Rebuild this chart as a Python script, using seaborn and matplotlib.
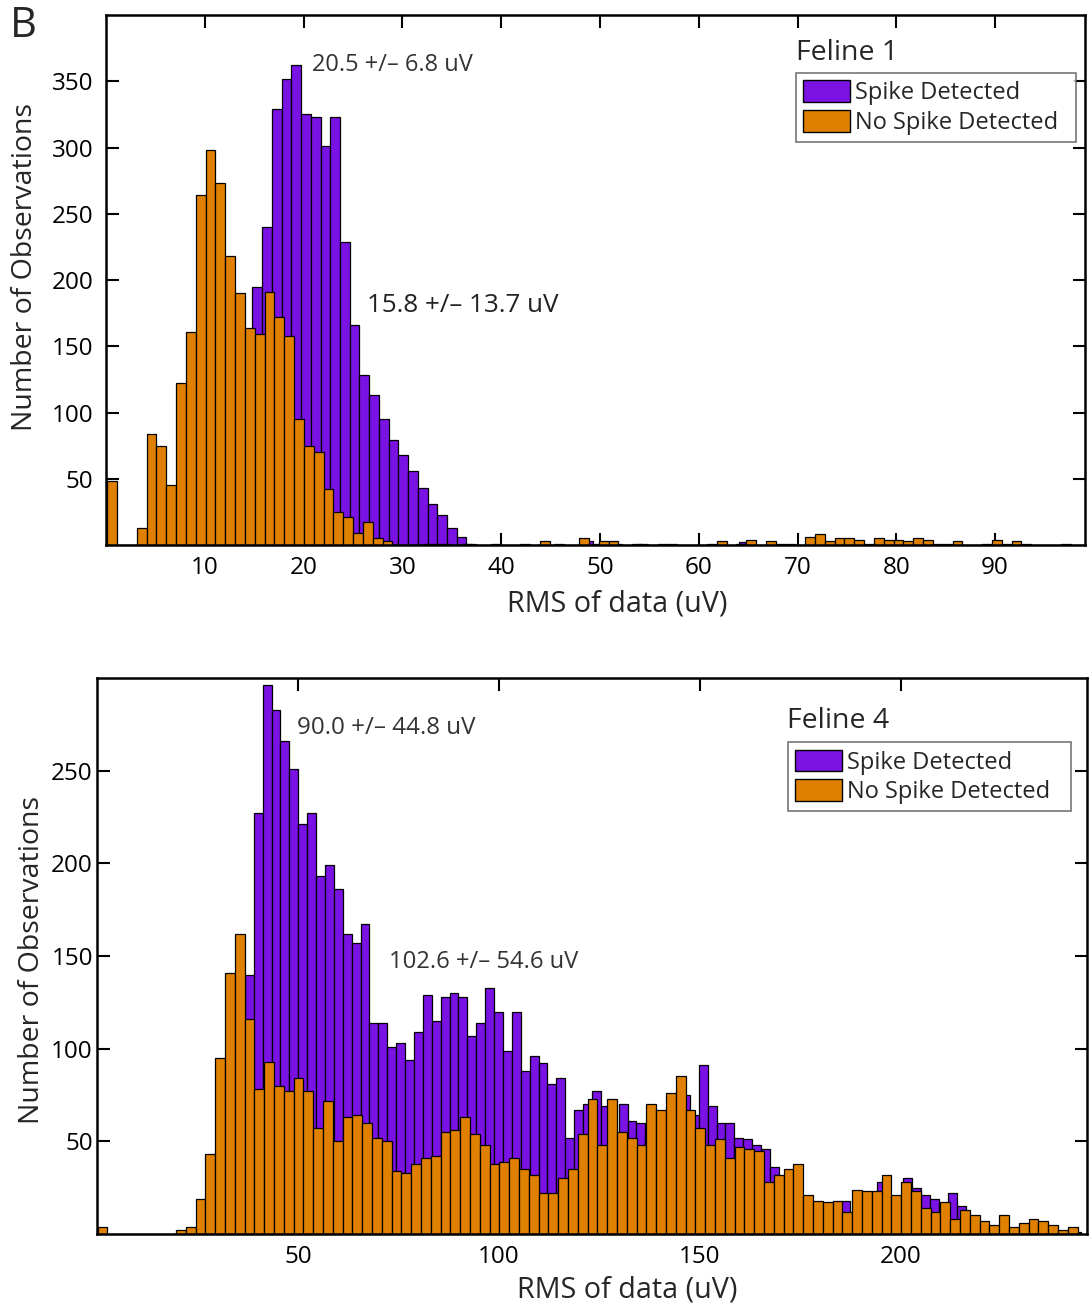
import numpy as np
import pandas as pd
import matplotlib
matplotlib.use("Agg")
import matplotlib.pyplot as plt
import seaborn as sns
from matplotlib.patches import Patch

sns.set_theme(style="white")
plt.rcParams['font.family'] = ['Open Sans', 'DejaVu Sans']

# ---------------- Feline 1: counts per bin (100 bins, MATLAB-style hist) ----------------
f1_nospike = [48, 0, 0, 13, 84, 75, 45, 122, 161, 264,
              298, 273, 218, 190, 164, 159, 191, 172, 158, 95,
              75, 70, 42, 25, 21, 9, 17, 5, 3, 0,
              0, 0, 1, 1, 1, 0, 1, 0, 0, 1,
              0, 0, 1, 0, 3, 0, 0, 0, 5, 0,
              3, 3, 0, 0, 1, 0, 1, 1, 0, 0,
              0, 1, 3, 0, 1, 4, 0, 3, 1, 1,
              0, 6, 8, 3, 5, 5, 4, 1, 5, 4,
              4, 3, 5, 4, 1, 1, 3, 0, 0, 1,
              4, 1, 3, 1, 0, 0, 0, 1, 0, 0]
f1_spike = [0, 0, 0, 0, 1, 2, 4, 8, 15, 25,
            40, 60, 85, 110, 140, 195, 240, 329, 352, 362,
            325, 323, 301, 323, 229, 166, 128, 113, 95, 79,
            68, 56, 43, 31, 23, 13, 6, 1, 0, 0,
            0, 0, 0, 0, 0, 0, 1, 0, 0, 3,
            1, 0, 1, 0, 1, 0, 0, 0, 0, 0,
            0, 0, 0, 0, 0, 2, 0, 0, 0, 0,
            0, 0, 0, 0, 0, 0, 0, 0, 0, 0,
            0, 0, 0, 0, 0, 0, 0, 0, 0, 0,
            0, 0, 0, 0, 0, 0, 0, 0, 0, 0]
f1_nospike_range = (0.13, 99.63)
f1_spike_range = (0.045, 98.545)

# ---------------- Feline 4 ----------------
f4_nospike = [4, 0, 0, 0, 0, 0, 0, 0, 2, 4,
              19, 43, 95, 141, 162, 116, 78, 93, 80, 77,
              84, 77, 57, 72, 50, 63, 64, 60, 52, 50,
              34, 33, 38, 41, 42, 55, 56, 63, 54, 48,
              38, 39, 41, 35, 32, 22, 22, 30, 35, 54,
              73, 48, 73, 55, 52, 48, 70, 67, 76, 85,
              67, 57, 48, 51, 41, 47, 46, 45, 28, 32,
              35, 38, 21, 18, 17, 18, 12, 24, 23, 23,
              32, 21, 28, 23, 14, 12, 17, 8, 13, 10,
              7, 5, 10, 4, 6, 8, 7, 5, 2, 4]
f4_spike = [1, 8, 25, 55, 90, 120, 140, 227, 296, 283,
            266, 251, 221, 227, 193, 199, 186, 162, 157, 167,
            114, 114, 101, 103, 94, 109, 129, 115, 128, 130,
            128, 107, 114, 133, 120, 99, 120, 88, 96, 92,
            81, 84, 52, 67, 70, 77, 69, 55, 70, 61,
            60, 55, 58, 62, 72, 75, 64, 91, 69, 60,
            60, 52, 51, 48, 46, 36, 30, 30, 18, 16,
            15, 16, 15, 18, 12, 20, 21, 28, 19, 20,
            30, 25, 21, 19, 16, 22, 15, 9, 6, 4,
            4, 3, 2, 2, 1, 1, 1, 1, 1, 1]
f4_nospike_range = (0.17, 243.97)
f4_spike_range = (23.5, 244.9)

labels = ["Spike Detected", "No Spike Detected"]
PURPLE = "#7A12E4"
ORANGE = "#DF8000"


def draw_hist(ax, counts, rng, color):
    edges = np.linspace(rng[0], rng[1], len(counts) + 1)
    centers = 0.5 * (edges[:-1] + edges[1:])
    df = pd.DataFrame({"rms": centers, "n": np.asarray(counts, dtype=float)})
    sns.histplot(data=df, x="rms", weights="n", bins=list(edges), ax=ax,
                 color=color, alpha=1, edgecolor="black", linewidth=0.9)


def style_axes(ax, xlim, ylim, xticks, yticks, ypad):
    ax.set_xlim(*xlim)
    ax.set_ylim(*ylim)
    ax.set_xticks(list(xticks))
    ax.set_yticks(list(yticks))
    ax.set_xlabel("")
    ax.set_ylabel("")
    ax.grid(False)
    for s in ax.spines.values():
        s.set_color("black")
        s.set_linewidth(1.8)
    ax.tick_params(axis="both", direction="in", length=9, width=1.5,
                   bottom=True, left=True, top=True, right=True,
                   labelsize=17.5, colors="black")
    ax.tick_params(axis="x", pad=8)
    ax.tick_params(axis="y", pad=ypad)


def add_legend(ax, x0, y0, width):
    handles = [Patch(facecolor=PURPLE, edgecolor="black", linewidth=1),
               Patch(facecolor=ORANGE, edgecolor="black", linewidth=1)]
    leg = ax.legend(handles, labels, loc="upper left", bbox_to_anchor=(x0, y0, width, 0.0),
                    mode="expand", borderaxespad=0, fontsize=17, frameon=True, fancybox=False,
                    handlelength=2.0, handleheight=1.05, handletextpad=0.2,
                    labelspacing=0.2, borderpad=0.3)
    leg.get_frame().set_edgecolor("#555555")
    leg.get_frame().set_linewidth(1.2)
    return leg


fig = plt.figure(figsize=(10.89, 13.08), dpi=100)
W, H = 1089, 1308


def axes_px(left, top, right, bottom):
    return fig.add_axes([left / W, 1 - bottom / H, (right - left) / W, (bottom - top) / H])


# Top panel
ax1 = axes_px(106, 15, 1085, 545)
draw_hist(ax1, f1_spike, f1_spike_range, PURPLE)
draw_hist(ax1, f1_nospike, f1_nospike_range, ORANGE)
style_axes(ax1, (0, 99.1), (0, 400), range(10, 100, 10), range(50, 400, 50), 9)
ax1.text(20.9, 362, "20.5 +/\u2013 6.8 uV", fontsize=17, color="#333333", va="center", ha="left")
ax1.text(26.4, 181, "15.8 +/\u2013 13.7 uV", fontsize=18.7, color="#222222", va="center", ha="left")
ax1.text(0.705, 0.929, "Feline 1", transform=ax1.transAxes, fontsize=20.5, va="center", ha="left")
add_legend(ax1, 0.7048, 0.8906, 0.2860)

# Bottom panel
ax2 = axes_px(97, 678, 1087, 1234)
draw_hist(ax2, f4_spike, f4_spike_range, PURPLE)
draw_hist(ax2, f4_nospike, f4_nospike_range, ORANGE)
style_axes(ax2, (0, 246.3), (0, 300), [50, 100, 150, 200], range(50, 300, 50), 3)
ax2.text(49.8, 273, "90.0 +/\u2013 44.8 uV", fontsize=17.4, color="#333333", va="center", ha="left")
ax2.text(72.6, 147, "102.6 +/\u2013 54.6 uV", fontsize=17.1, color="#333333", va="center", ha="left")
ax2.text(0.697, 0.923, "Feline 4", transform=ax2.transAxes, fontsize=20.5, va="center", ha="left")
add_legend(ax2, 0.698, 0.884, 0.2860)

# Axis titles
fig.text(617 / W, 1 - 604 / H, "RMS of data (uV)", fontsize=20.7, ha="center", va="center")
fig.text(25 / W, 1 - 267 / H, "Number of Observations", fontsize=20.5, ha="center", va="center", rotation=90)
fig.text(627 / W, 1 - 1290 / H, "RMS of data (uV)", fontsize=20.7, ha="center", va="center")
fig.text(32 / W, 1 - 960 / H, "Number of Observations", fontsize=20.5, ha="center", va="center", rotation=90)

# Panel letter
fig.text(10 / W, 1 - 26 / H, "B", fontsize=30, ha="left", va="center")

fig.savefig("out.png", dpi=100)
